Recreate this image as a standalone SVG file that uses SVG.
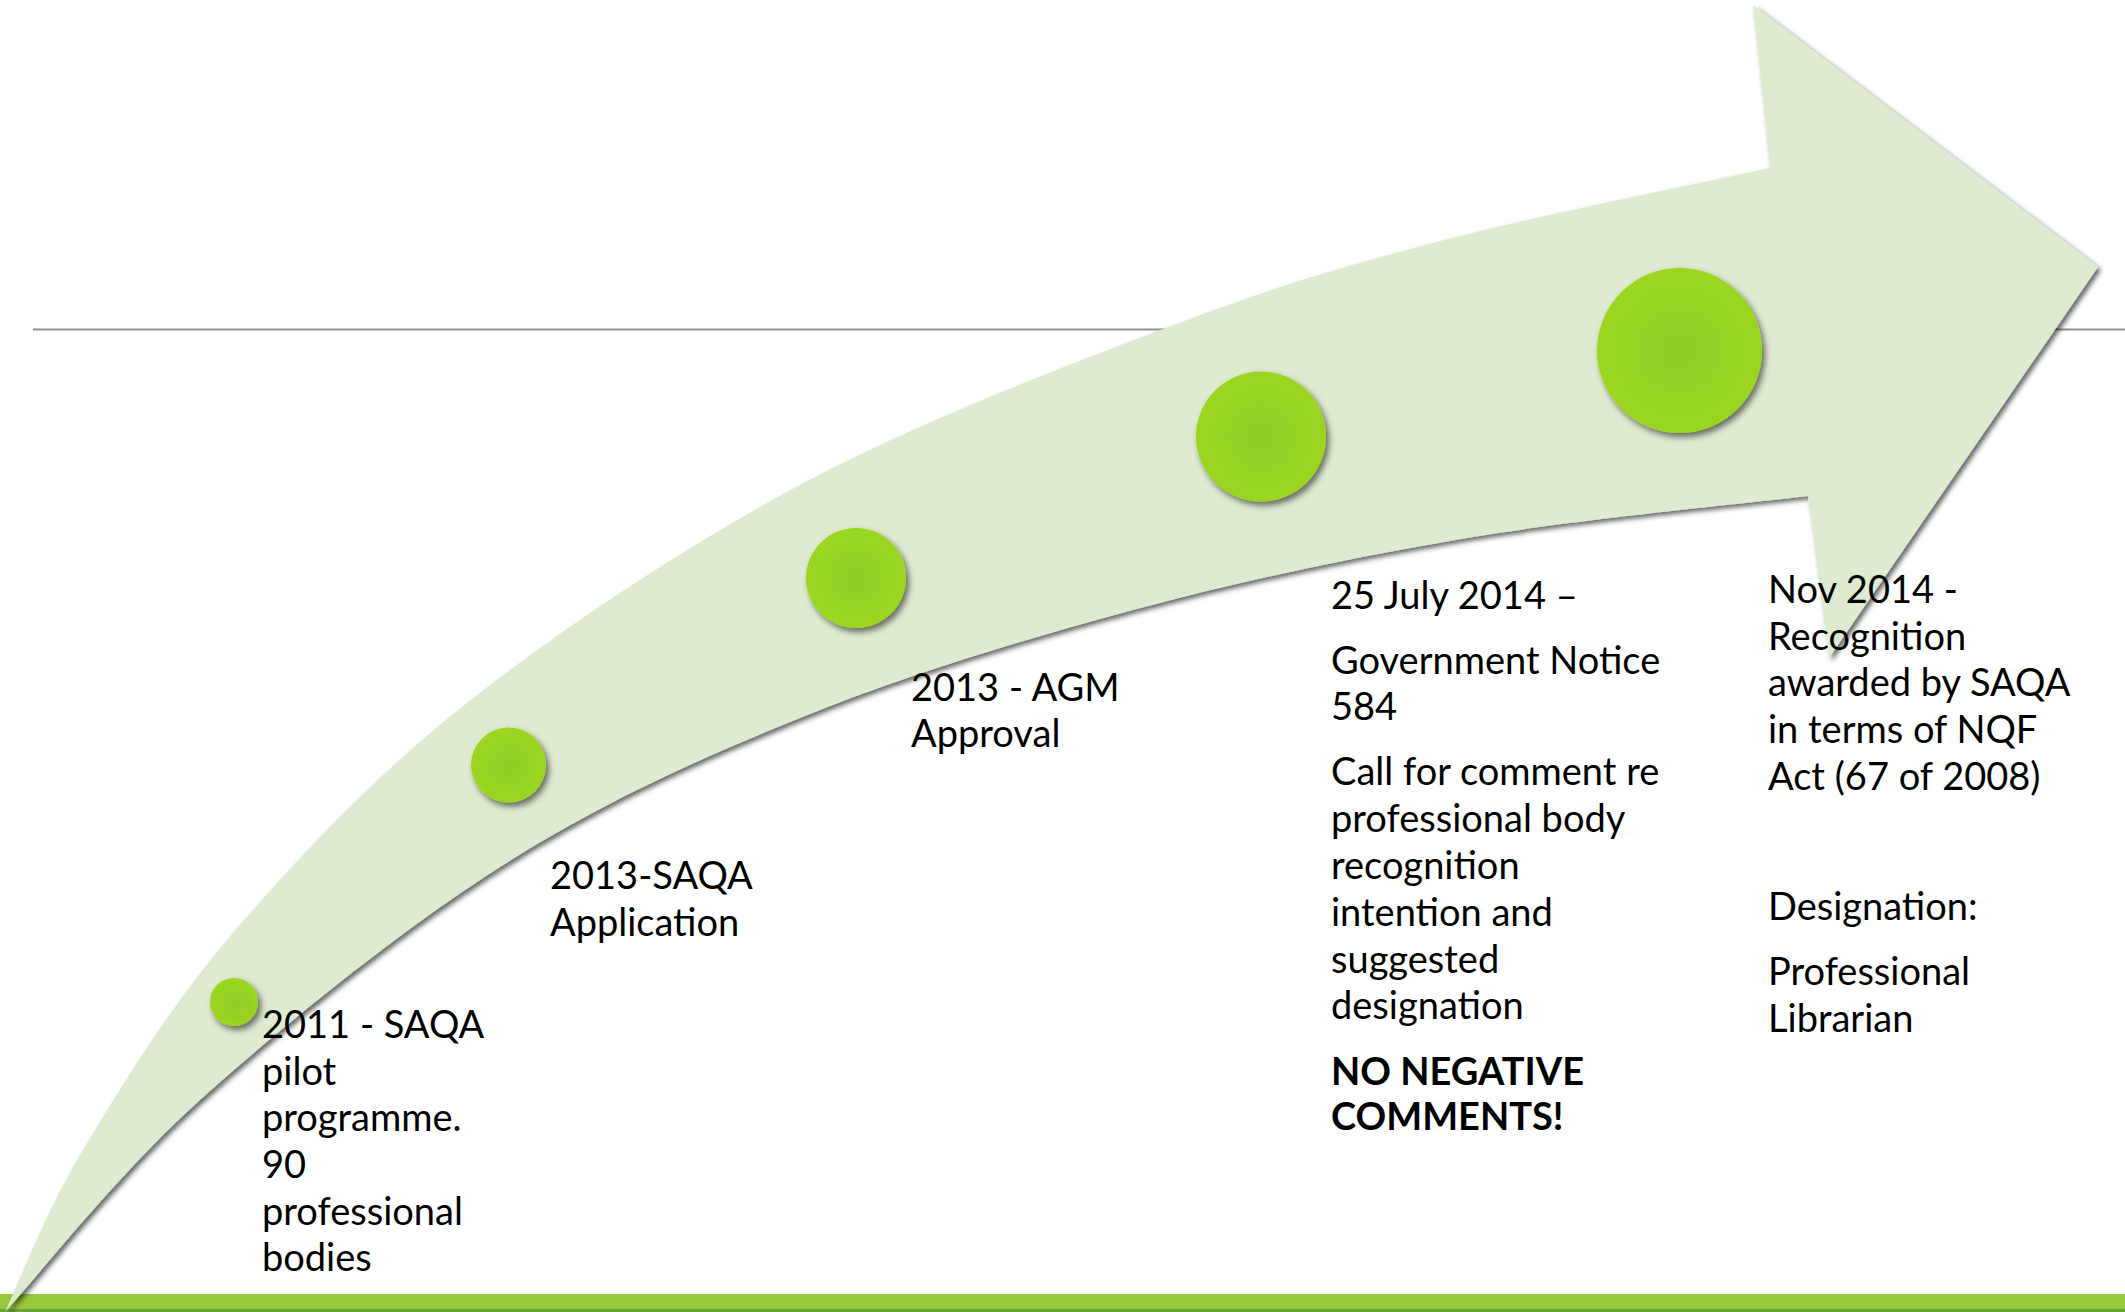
<svg xmlns="http://www.w3.org/2000/svg" width="2125" height="1312" viewBox="0 0 2125 1312">
  <style>
    .t { font-family: Lato, "Liberation Sans", sans-serif; font-size: 38px; fill: #000; }
    .b { font-weight: bold; }
    .dot { fill: url(#dotGrad); filter: url(#dotShadow); }
  </style>
  <defs>
    <radialGradient id="dotGrad" cx="50%" cy="50%" r="50%">
      <stop offset="0" stop-color="#93CB2A"/>
      <stop offset="1" stop-color="#9AD61F"/>
    </radialGradient>
    <filter id="arrowShadow" x="-5%" y="-5%" width="110%" height="110%">
      <feDropShadow dx="3" dy="3" stdDeviation="2.5" flood-color="#000" flood-opacity="0.6"/>
    </filter>
    <filter id="dotShadow" x="-20%" y="-20%" width="140%" height="140%">
      <feDropShadow dx="3" dy="4" stdDeviation="3" flood-color="#000" flood-opacity="0.55"/>
    </filter>
  </defs>

  <rect x="0" y="0" width="2125" height="1312" fill="#FFFFFF"/>

  <g id="background">
    <line x1="33" y1="329.5" x2="2125" y2="329.5" stroke="#8F8F8F" stroke-width="2"/>
    <rect x="0" y="1294" width="2125" height="15" fill="#97C93A"/>
    <rect x="0" y="1309" width="2125" height="3" fill="#63A436"/>
  </g>

  <g id="connectors">
    <path id="timeline-arrow" fill="#DEEBD0" filter="url(#arrowShadow)"
      d="M5,1312
         C18,1285 45,1213 83,1150
         C121,1087 169,1007.5 233,933
         C297,858.5 372.5,777.7 467,703
         C561.5,628.3 684,547.3 800,485
         C916,422.7 1057.5,369.3 1163,329
         C1268.5,288.7 1331.8,269.8 1433,243
         C1534.2,216.2 1713.8,180.5 1770,168
         L1753,5
         L2098,267
         L1829,658
         L1808,496
         C1751.2,503 1579.5,519 1467,538
         C1354.5,557 1244.2,580 1133,610
         C1021.8,640 905.5,675.2 800,718
         C694.5,760.8 600,803.3 500,867
         C400,930.7 282.5,1025.8 200,1100
         C117.5,1174.2 37.5,1276.7 5,1312 Z"/>
  </g>

  <g id="m2011">
    <circle class="dot" cx="234" cy="1002" r="24"/>
    <text class="t">
      <tspan x="262" y="1038">2011 - SAQA</tspan>
      <tspan x="262" y="1084.5">pilot</tspan>
      <tspan x="262" y="1131">programme.</tspan>
      <tspan x="262" y="1177.5">90</tspan>
      <tspan x="262" y="1224.5">professional</tspan>
      <tspan x="262" y="1271">bodies</tspan>
    </text>
  </g>

  <g id="m2013-saqa">
    <circle class="dot" cx="508.5" cy="765" r="37.5"/>
    <text class="t">
      <tspan x="550" y="889">2013-SAQA</tspan>
      <tspan x="550" y="936">Application</tspan>
    </text>
  </g>

  <g id="m2013-agm">
    <circle class="dot" cx="856" cy="578" r="50"/>
    <text class="t">
      <tspan x="911" y="701">2013 - AGM</tspan>
      <tspan x="911" y="747">Approval</tspan>
    </text>
  </g>

  <g id="m2014-july">
    <circle class="dot" cx="1261" cy="436.5" r="65"/>
    <text class="t">
      <tspan x="1331" y="609">25 July 2014 –</tspan>
      <tspan x="1331" y="674">Government Notice</tspan>
      <tspan x="1331" y="720">584</tspan>
      <tspan x="1331" y="785">Call for comment re</tspan>
      <tspan x="1331" y="832">professional body</tspan>
      <tspan x="1331" y="879">recognition</tspan>
      <tspan x="1331" y="925.5">intention and</tspan>
      <tspan x="1331" y="973">suggested</tspan>
      <tspan x="1331" y="1019">designation</tspan>
      <tspan class="b" x="1331" y="1085">NO NEGATIVE</tspan>
      <tspan class="b" x="1331" y="1130">COMMENTS!</tspan>
    </text>
  </g>

  <g id="m2014-nov">
    <circle class="dot" cx="1679.5" cy="350.5" r="82.5"/>
    <text class="t">
      <tspan x="1768" y="603">Nov 2014 -</tspan>
      <tspan x="1768" y="649.5">Recognition</tspan>
      <tspan x="1768" y="696">awarded by SAQA</tspan>
      <tspan x="1768" y="742.5">in terms of NQF</tspan>
      <tspan x="1768" y="789.5">Act (67 of 2008)</tspan>
      <tspan x="1768" y="919.5">Designation:</tspan>
      <tspan x="1768" y="985">Professional</tspan>
      <tspan x="1768" y="1031.5">Librarian</tspan>
    </text>
  </g>
</svg>
